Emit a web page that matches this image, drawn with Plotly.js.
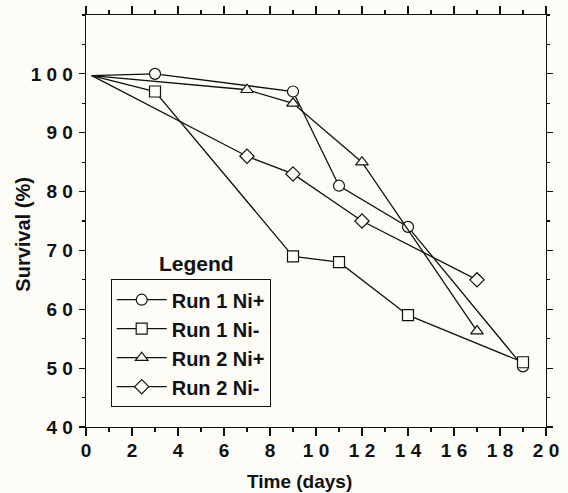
<!DOCTYPE html>
<html>
<head>
<meta charset="utf-8">
<script src="https://cdn.plot.ly/plotly-3.0.1.min.js"></script>
<style>
  html, body { margin: 0; padding: 0; background: #fdfcf7; }
  #chart { width: 568px; height: 493px; }
</style>
</head>
<body>
<div id="chart"></div>
<script>
// ---- data ----
const seriesNames = ['Run 1 Ni+', 'Run 1 Ni-', 'Run 2 Ni+', 'Run 2 Ni-'];

const daysRun1NiPlus  = [0.25, 3, 9, 11, 14, 19];
const survRun1NiPlus  = [99.7, 100, 97, 81, 74, 50.3];

const daysRun1NiMinus = [0.25, 3, 9, 11, 14, 19];
const survRun1NiMinus = [99.7, 97, 69, 68, 59, 51];

const daysRun2NiPlus  = [0.25, 7, 9, 12, 17];
const survRun2NiPlus  = [99.7, 97.3, 95, 85, 56.3];

const daysRun2NiMinus = [0.25, 7, 9, 12, 17];
const survRun2NiMinus = [99.7, 86, 83, 75, 65];

const xTickVals = [0, 2, 4, 6, 8, 10, 12, 14, 16, 18, 20];
const xTickText = ['0', '2', '4', '6', '8', '1 0', '1 2', '1 4', '1 6', '1 8', '2 0'];
const yTickVals = [40, 50, 60, 70, 80, 90, 100];
const yTickText = ['4 0', '5 0', '6 0', '7 0', '8 0', '9 0', '1 0 0'];

// ---- styling ----
const BG = '#fdfcf7';
const INK = '#111111';
const FONT = 'Liberation Sans, Arial, Helvetica, sans-serif';
const symbols = ['circle', 'square', 'triangle-up', 'diamond'];

const W = 568, H = 493;
const M = { l: 86, r: 22, t: 15, b: 66.3 };
const PW = W - M.l - M.r, PH = H - M.t - M.b;
const px2x = (p) => (p - M.l) / PW;
const px2y = (p) => (H - M.b - p) / PH;

const xs = [daysRun1NiPlus, daysRun1NiMinus, daysRun2NiPlus, daysRun2NiMinus];
const ys = [survRun1NiPlus, survRun1NiMinus, survRun2NiPlus, survRun2NiMinus];

const traces = xs.map((x, k) => ({
  type: 'scatter',
  mode: 'lines+markers',
  name: seriesNames[k],
  x: x,
  y: ys[k],
  cliponaxis: false,
  line: { color: INK, width: 1.3 },
  marker: {
    symbol: symbols[k],
    size: 11,
    color: BG,
    line: { color: INK, width: 1.2 }
  },
  // the starting point (at the origin) carries no marker in the original
  selectedpoints: x.map((_, i) => i).filter(i => i > 0),
  selected: { marker: { opacity: 1 } },
  unselected: { marker: { opacity: 0 } }
}));

const axisCommon = {
  showline: true,
  linecolor: INK,
  linewidth: 1.3,
  mirror: 'ticks',
  ticks: 'outside',
  tickcolor: INK,
  tickwidth: 1.2,
  showgrid: false,
  zeroline: false,
  tickmode: 'array',
  tickfont: { family: FONT, size: 19, color: INK, weight: 'bold' }
};

const layout = {
  width: W,
  height: H,
  margin: M,
  paper_bgcolor: BG,
  plot_bgcolor: BG,
  showlegend: true,
  font: { family: FONT, color: INK },
  xaxis: Object.assign({}, axisCommon, {
    range: [0, 20],
    tickvals: xTickVals,
    ticktext: xTickText,
    ticklen: 8,
    ticklabelstandoff: -2,
    minor: { tickmode: 'linear', tick0: 0, dtick: 1, ticklen: 4, tickcolor: INK, tickwidth: 1.1, ticks: 'outside' }
  }),
  yaxis: Object.assign({}, axisCommon, {
    range: [40, 110],
    tickvals: yTickVals,
    ticktext: yTickText,
    ticklen: 6,
    ticklabelstandoff: 2,
    minor: { tickmode: 'linear', tick0: 40, dtick: 5, ticklen: 3, tickcolor: INK, tickwidth: 1.1, ticks: 'outside' }
  }),
  legend: {
    x: px2x(110.7),
    y: px2y(279),
    xanchor: 'left',
    yanchor: 'top',
    bgcolor: BG,
    bordercolor: INK,
    borderwidth: 1,
    itemwidth: 50,
    font: { family: FONT, size: 20, color: INK, weight: 'bold' },
    itemclick: false
  },
  annotations: [
    {
      text: 'Legend', xref: 'paper', yref: 'paper',
      x: px2x(196.5), y: px2y(263.5), xanchor: 'center', yanchor: 'middle',
      showarrow: false,
      font: { family: FONT, size: 21, color: INK, weight: 'bold' }
    },
    {
      text: 'Time (days)', xref: 'paper', yref: 'paper',
      x: px2x(299), y: px2y(481), xanchor: 'center', yanchor: 'middle',
      showarrow: false,
      font: { family: FONT, size: 19, color: INK, weight: 'bold' }
    },
    {
      text: 'Survival (%)', xref: 'paper', yref: 'paper',
      x: px2x(23), y: px2y(234.5), xanchor: 'center', yanchor: 'middle',
      textangle: -90,
      showarrow: false,
      font: { family: FONT, size: 20, color: INK, weight: 'bold' }
    }
  ]
};

Plotly.newPlot('chart', traces, layout, { displayModeBar: false, staticPlot: true });
</script>
</body>
</html>
